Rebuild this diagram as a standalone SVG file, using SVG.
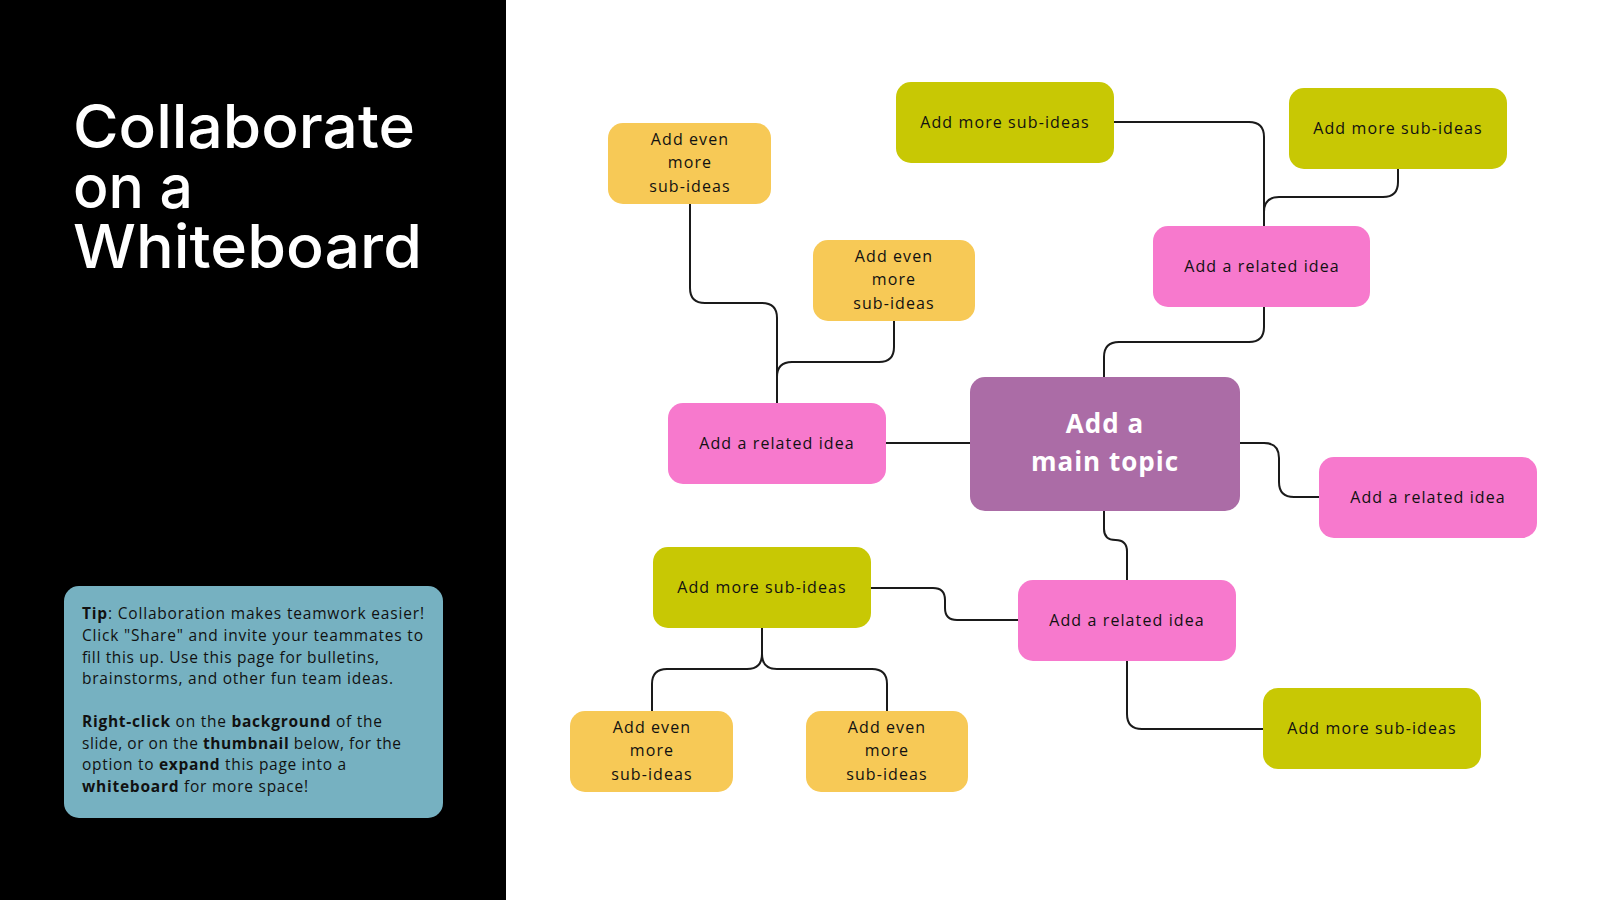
<svg xmlns="http://www.w3.org/2000/svg" width="1600" height="900" viewBox="0 0 1600 900">
<style>
.pink{fill:#f779cd}
.green{fill:#c8c804}
.yellow{fill:#f7c956}
.main{fill:#ab6ca6}
.lbl{font-family:"Open Sans","Liberation Sans",sans-serif;font-size:16px;letter-spacing:1.1px;fill:#111;text-anchor:middle}
.tip{font-family:"Open Sans","Liberation Sans",sans-serif;font-size:15.5px;font-weight:500;fill:#111}
.tip .b{font-weight:700}
.title{font-family:Inter,"Liberation Sans",sans-serif;font-size:60px;font-weight:500;fill:#fff}
.conn{fill:none;stroke:#1a1a1a;stroke-width:2}
</style>
<rect x="0" y="0" width="1600" height="900" fill="#ffffff"/>
<rect x="0" y="0" width="506" height="900" fill="#000000"/>
<g id="title">
<text class="title"><tspan x="73" y="148" textLength="342" lengthAdjust="spacingAndGlyphs">Collaborate</tspan><tspan x="73" y="208" textLength="120" lengthAdjust="spacingAndGlyphs">on a</tspan><tspan x="73" y="268" textLength="349" lengthAdjust="spacingAndGlyphs">Whiteboard</tspan></text>
</g>
<g id="tip-box">
<rect x="64" y="586" width="379" height="232" rx="15" fill="#76b1c1"/>
<text class="tip" x="82" y="619" textLength="342" lengthAdjust="spacing"><tspan class="b">Tip</tspan>: Collaboration makes teamwork easier!</text>
<text class="tip" x="82" y="641" textLength="341" lengthAdjust="spacing">Click "Share" and invite your teammates to</text>
<text class="tip" x="82" y="662.5" textLength="297" lengthAdjust="spacing">fill this up. Use this page for bulletins,</text>
<text class="tip" x="82" y="684" textLength="311" lengthAdjust="spacing">brainstorms, and other fun team ideas.</text>
<text class="tip" x="82" y="727" textLength="300" lengthAdjust="spacing"><tspan class="b">Right-click</tspan> on the <tspan class="b">background</tspan> of the</text>
<text class="tip" x="82" y="748.5" textLength="319" lengthAdjust="spacing">slide, or on the <tspan class="b">thumbnail</tspan> below, for the</text>
<text class="tip" x="82" y="770" textLength="264" lengthAdjust="spacing">option to <tspan class="b">expand</tspan> this page into a</text>
<text class="tip" x="82" y="791.5" textLength="226" lengthAdjust="spacing"><tspan class="b">whiteboard</tspan> for more space!</text>
</g>
<g id="connectors">
<path class="conn" d="M690,204 V288 Q690,303 705,303 H762 Q777,303 777,318 V403"/>
<path class="conn" d="M894,321 V347 Q894,362 879,362 H792 Q777,362 777,377"/>
<path class="conn" d="M1114,122 H1249 Q1264,122 1264,137 V226"/>
<path class="conn" d="M1398,169 V182 Q1398,197 1383,197 H1279 Q1264,197 1264,212"/>
<path class="conn" d="M1264,307 V327 Q1264,342 1249,342 H1119 Q1104,342 1104,357 V377"/>
<path class="conn" d="M886,443 H970"/>
<path class="conn" d="M1240,443 H1264 Q1279,443 1279,458 V482 Q1279,497 1294,497 H1319"/>
<path class="conn" d="M1104,511 V529 Q1104,540 1115.5,540 Q1127,540 1127,551.5 V580"/>
<path class="conn" d="M1127,661 V714 Q1127,729 1142,729 H1263"/>
<path class="conn" d="M871,588 H933 Q945,588 945,600 V608 Q945,620 957,620 H1018"/>
<path class="conn" d="M762,628 V654 Q762,669 747,669 H667 Q652,669 652,684 V711"/>
<path class="conn" d="M762,654 Q762,669 777,669 H872 Q887,669 887,684 V711"/>
</g>
<g id="main-topic">
<rect class="main" x="970" y="377" width="270" height="134" rx="15"/>
<text x="1105" y="433" font-family="'Open Sans','Liberation Sans',sans-serif" font-size="26" font-weight="700" fill="#fff" text-anchor="middle" letter-spacing="1">Add a</text>
<text x="1105" y="471" font-family="'Open Sans','Liberation Sans',sans-serif" font-size="26" font-weight="700" fill="#fff" text-anchor="middle" letter-spacing="1">main topic</text>
</g>
<g id="related-left">
<rect class="pink" x="668" y="403" width="218" height="81" rx="15"/>
<text class="lbl" x="777" y="449">Add a related idea</text>
</g>
<g id="related-top">
<rect class="pink" x="1153" y="226" width="217" height="81" rx="15"/>
<text class="lbl" x="1262" y="272">Add a related idea</text>
</g>
<g id="related-right">
<rect class="pink" x="1319" y="457" width="218" height="81" rx="15"/>
<text class="lbl" x="1428" y="503">Add a related idea</text>
</g>
<g id="related-bottom">
<rect class="pink" x="1018" y="580" width="218" height="81" rx="15"/>
<text class="lbl" x="1127" y="626">Add a related idea</text>
</g>
<g id="sub-top-1">
<rect class="green" x="896" y="82" width="218" height="81" rx="15"/>
<text class="lbl" x="1005" y="128">Add more sub-ideas</text>
</g>
<g id="sub-top-2">
<rect class="green" x="1289" y="88" width="218" height="81" rx="15"/>
<text class="lbl" x="1398" y="134">Add more sub-ideas</text>
</g>
<g id="sub-bottom-left">
<rect class="green" x="653" y="547" width="218" height="81" rx="15"/>
<text class="lbl" x="762" y="593">Add more sub-ideas</text>
</g>
<g id="sub-bottom-right">
<rect class="green" x="1263" y="688" width="218" height="81" rx="15"/>
<text class="lbl" x="1372" y="734">Add more sub-ideas</text>
</g>
<g id="even-top-left">
<rect class="yellow" x="608" y="123" width="163" height="81" rx="15"/>
<text class="lbl" x="690" y="145">Add even</text>
<text class="lbl" x="690" y="168">more</text>
<text class="lbl" x="690" y="192">sub-ideas</text>
</g>
<g id="even-top-mid">
<rect class="yellow" x="813" y="240" width="162" height="81" rx="15"/>
<text class="lbl" x="894" y="262">Add even</text>
<text class="lbl" x="894" y="285">more</text>
<text class="lbl" x="894" y="309">sub-ideas</text>
</g>
<g id="even-bottom-left">
<rect class="yellow" x="570" y="711" width="163" height="81" rx="15"/>
<text class="lbl" x="652" y="733">Add even</text>
<text class="lbl" x="652" y="756">more</text>
<text class="lbl" x="652" y="780">sub-ideas</text>
</g>
<g id="even-bottom-right">
<rect class="yellow" x="806" y="711" width="162" height="81" rx="15"/>
<text class="lbl" x="887" y="733">Add even</text>
<text class="lbl" x="887" y="756">more</text>
<text class="lbl" x="887" y="780">sub-ideas</text>
</g>
</svg>
